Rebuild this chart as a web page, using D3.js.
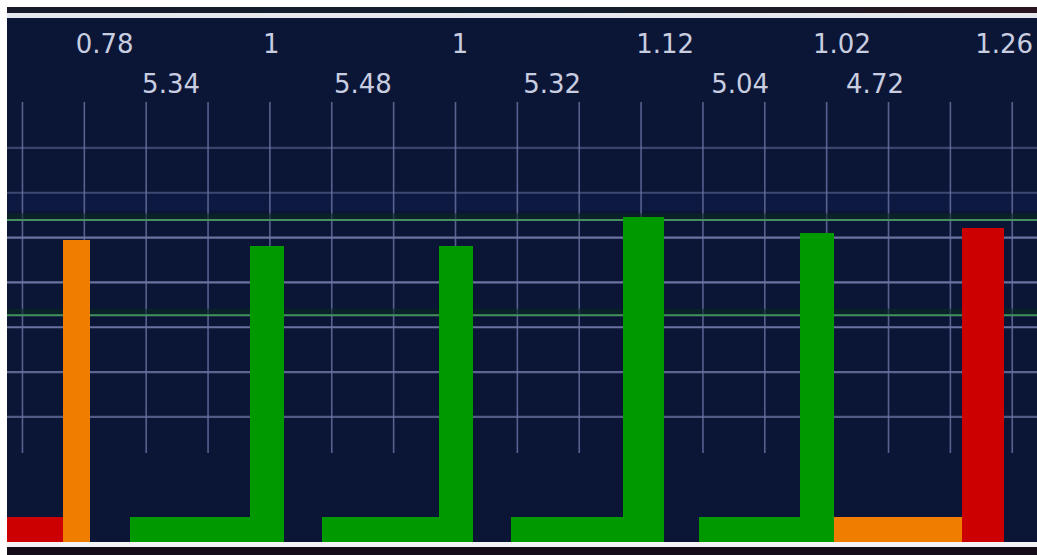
<!DOCTYPE html>
<html>
<head>
<meta charset="utf-8">
<script src="https://cdn.jsdelivr.net/npm/d3@7/dist/d3.min.js"></script>
<style>
  html, body { margin: 0; padding: 0; background: #ffffff; overflow: hidden; }
  svg { display: block; }
</style>
</head>
<body>
<svg id="chart" width="1037" height="555"></svg>
<script>
// ---- data ----
// vertical bars: x-extent (grid units) and height (grid units), with their top labels
const colStart  = [0.65, 3.68, 6.73, 9.71, 12.57, 15.19];
const colEnd    = [1.09, 4.23, 7.28, 10.37, 13.12, 15.87];
const colHeight = [6.74, 6.60, 6.60, 7.25, 6.89, 7.00];
const colValues = [0.78, 1, 1, 1.12, 1.02, 1.26];
const colColors = ["#ee7d00", "#009a00", "#009a00", "#009a00", "#009a00", "#cc0000"];

// horizontal spans along the bottom, with their labels
const spanStart  = [-0.25, 1.74, 4.84, 7.90, 10.94, 13.12];
const spanEnd    = [0.65, 3.68, 6.73, 9.71, 12.57, 15.19];
const spanValues = [null, 5.34, 5.48, 5.32, 5.04, 4.72];
const spanColors = ["#cc0000", "#009a00", "#009a00", "#009a00", "#009a00", "#ee7d00"];
const spanThickness = 0.56;

// grid
const xGrid = d3.range(0, 17);                           // vertical grid lines
const yGrid = [2.79, 3.79, 4.79, 5.79, 6.79, 7.79, 8.79]; // horizontal grid lines
const yGridStrength = [0.75, 0.85, 1, 1, 1, 0.55, 0.5];
const yRefLines = [5.06, 7.18];                          // green reference lines

// ---- layout ----
const W = 1037, H = 555;
const plot = { left: 7, right: 1037, top: 18, bottom: 542 };
const svg = d3.select("#chart");

const x = d3.scaleLinear().domain([-0.25, 16.4]).range([plot.left, plot.right]);
const unitPx = 44.83;
const y = d3.scaleLinear().domain([0, (plot.bottom - plot.top) / unitPx]).range([plot.bottom, plot.top]);

// frame pieces
svg.append("rect").attr("x", 0).attr("y", 0).attr("width", W).attr("height", H).attr("fill", "#ffffff");
const defs = svg.append("defs");
const topStrip = defs.append("linearGradient").attr("id", "topStrip");
topStrip.append("stop").attr("offset", "0%").attr("stop-color", "#181a2c");
topStrip.append("stop").attr("offset", "50%").attr("stop-color", "#10202e");
topStrip.append("stop").attr("offset", "100%").attr("stop-color", "#2a1520");
svg.append("rect").attr("x", plot.left).attr("y", 7).attr("width", W - plot.left).attr("height", 7).attr("fill", "url(#topStrip)");
svg.append("rect").attr("x", plot.left).attr("y", 13).attr("width", W - plot.left).attr("height", 5).attr("fill", "#e6e8ee");
svg.append("rect").attr("x", plot.left).attr("y", plot.top).attr("width", W - plot.left).attr("height", plot.bottom - plot.top).attr("fill", "#0b1637");
svg.append("rect").attr("x", plot.left).attr("y", plot.bottom).attr("width", W - plot.left).attr("height", 5).attr("fill", "#f4f4f6");
svg.append("rect").attr("x", plot.left).attr("y", plot.bottom + 5).attr("width", W - plot.left).attr("height", H - plot.bottom - 5).attr("fill", "#140c16");

// subtle lighter band below the second grid line
svg.append("rect").attr("x", plot.left).attr("y", y(yGrid[5]) + 1).attr("width", W - plot.left)
  .attr("height", 17).attr("fill", "#13205a").attr("opacity", 0.35);

// vertical grid lines
svg.append("g").selectAll("line").data(xGrid).join("line")
  .attr("x1", d => x(d)).attr("x2", d => x(d))
  .attr("y1", 102).attr("y2", 453)
  .attr("stroke", "#58618f").attr("stroke-width", 1.6);

// horizontal grid lines
svg.append("g").selectAll("line").data(yGrid).join("line")
  .attr("x1", plot.left).attr("x2", plot.right)
  .attr("y1", d => y(d)).attr("y2", d => y(d))
  .attr("stroke", "#6a73a0").attr("stroke-width", 2.2)
  .attr("stroke-opacity", (d, i) => yGridStrength[i]);

// green reference lines (with a dark green halo)
svg.append("g").selectAll("line").data(yRefLines).join("line")
  .attr("x1", plot.left).attr("x2", plot.right)
  .attr("y1", d => y(d) - 3).attr("y2", d => y(d) - 3)
  .attr("stroke", "#0c2a22").attr("stroke-width", 7).attr("stroke-opacity", 0.6);
svg.append("g").selectAll("line").data(yRefLines).join("line")
  .attr("x1", plot.left).attr("x2", plot.right)
  .attr("y1", d => y(d)).attr("y2", d => y(d))
  .attr("stroke", "#44905f").attr("stroke-width", 2);

// horizontal spans
const spans = spanStart.map((s, i) => ({ s, e: spanEnd[i], v: spanValues[i], c: spanColors[i] }));
svg.append("g").attr("shape-rendering", "crispEdges").selectAll("rect").data(spans).join("rect")
  .attr("x", d => x(d.s)).attr("width", d => x(d.e) - x(d.s) + 1)
  .attr("y", y(spanThickness)).attr("height", y(0) - y(spanThickness))
  .attr("fill", d => d.c);

// vertical bars
const cols = colStart.map((s, i) => ({ s, e: colEnd[i], h: colHeight[i], v: colValues[i], c: colColors[i] }));
svg.append("g").attr("shape-rendering", "crispEdges").selectAll("rect").data(cols).join("rect")
  .attr("x", d => x(d.s)).attr("width", d => x(d.e) - x(d.s))
  .attr("y", d => y(d.h)).attr("height", d => y(0) - y(d.h))
  .attr("fill", d => d.c);

// labels
const fmt = d => String(d);
const labelStyle = sel => sel
  .attr("font-family", "'DejaVu Sans', Verdana, sans-serif")
  .attr("font-size", 26)
  .attr("fill", "#c9cde0")
  .attr("text-anchor", "start");

svg.append("g").selectAll("text").data(cols).join("text")
  .call(labelStyle)
  .attr("x", d => x(d.s) + 13).attr("y", 53)
  .text(d => fmt(d.v));

svg.append("g").selectAll("text").data(spans.filter(d => d.v !== null)).join("text")
  .call(labelStyle)
  .attr("x", d => x(d.s) + 12).attr("y", 93)
  .text(d => fmt(d.v));
</script>
</body>
</html>
